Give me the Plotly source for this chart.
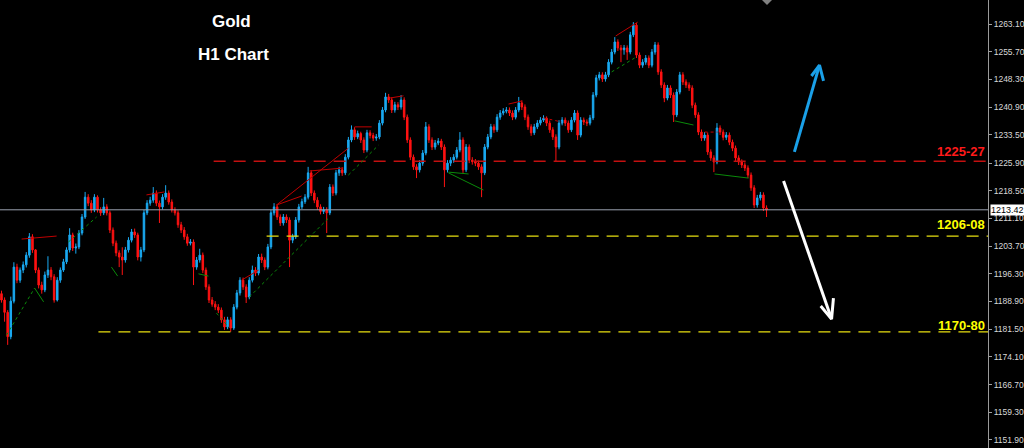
import plotly.graph_objects as go

# ---------------- data ----------------
first_open = 1191.0

closes = [
    1189.3, 1186.0, 1179.5, 1189.0, 1198.1, 1194.6, 1197.3, 1198.7, 1201.3, 1206.2,
    1202.7, 1197.3, 1193.3, 1192.0, 1196.0, 1197.3, 1195.5, 1189.3, 1194.6, 1197.3,
    1199.5, 1202.7, 1206.7, 1203.2, 1203.5, 1207.2, 1211.5, 1216.8, 1215.2, 1213.4,
    1216.8, 1213.4, 1212.6, 1214.2, 1212.6, 1208.0, 1204.5, 1201.9, 1200.8, 1200.0,
    1202.7, 1205.3, 1207.5, 1206.7, 1200.8, 1202.7, 1212.6, 1215.2, 1216.0, 1217.9,
    1215.2, 1214.2, 1216.8, 1217.9, 1215.5, 1213.4, 1212.6, 1209.4, 1208.0, 1206.2,
    1204.5, 1204.8, 1198.1, 1200.0,
    1201.3, 1197.3, 1192.8, 1189.3, 1188.2, 1187.4, 1186.6, 1184.0, 1182.1, 1184.0,
    1181.8, 1187.4, 1191.2, 1194.6, 1192.8, 1190.1, 1194.6, 1197.3, 1196.5, 1200.8,
    1200.0, 1198.1, 1203.5, 1212.6, 1214.2, 1211.5, 1209.9, 1211.5, 1210.7, 1205.3,
    1206.2, 1210.7, 1214.2, 1215.6, 1216.8, 1223.3, 1217.9, 1216.0, 1214.2, 1213.0,
    1213.4, 1212.6, 1219.5, 1217.9, 1223.3, 1224.1, 1223.3, 1227.5, 1232.1, 1234.8,
    1232.9, 1233.8, 1232.1, 1229.4, 1234.0, 1233.3, 1232.6, 1232.9, 1236.6, 1240.1,
    1243.6,
    1242.8, 1240.1, 1241.5, 1240.9, 1242.8, 1238.2, 1232.1, 1227.5, 1224.9, 1224.1,
    1225.9, 1228.6, 1235.6, 1232.1, 1230.2, 1231.3, 1231.8, 1230.2, 1224.1, 1225.9,
    1226.7, 1227.5, 1229.4, 1232.1, 1224.1, 1230.2, 1226.7, 1226.3, 1225.9, 1224.9,
    1223.3, 1230.2, 1232.9, 1235.6, 1234.8, 1238.2, 1239.3, 1239.8, 1240.1, 1239.3,
    1238.2, 1240.1, 1242.0, 1240.9, 1238.2, 1235.6, 1234.0, 1235.6, 1236.6, 1237.4,
    1237.9, 1236.6, 1234.8, 1232.9, 1230.2, 1236.6, 1237.4, 1236.6, 1234.8, 1237.4,
    1239.3, 1233.4, 1237.4, 1236.9, 1236.6, 1238.0, 1244.1, 1248.7,
    1249.5, 1248.4, 1249.5, 1252.9, 1255.6, 1258.3, 1256.7, 1256.2, 1256.7, 1255.6,
    1260.2, 1262.8, 1254.8, 1252.1, 1252.9, 1254.0, 1252.1, 1255.6, 1257.5, 1250.3,
    1246.8, 1243.3, 1246.0, 1244.1, 1238.8, 1244.9, 1249.5, 1247.6, 1246.8, 1246.0,
    1241.4, 1238.8, 1234.2, 1232.6, 1233.4, 1228.9, 1227.3, 1226.2, 1235.3, 1234.2,
    1232.8, 1233.4, 1231.5, 1229.9, 1227.3, 1226.2, 1225.4, 1224.6, 1222.7, 1219.3,
    1214.7, 1216.6, 1217.4, 1213.9, 1213.42,
]

highs = [
    1191.8, 1190.0, 1186.6, 1190.2, 1199.4, 1199.0, 1198.0, 1199.6, 1202.1, 1207.2,
    1206.9, 1202.9, 1198.0, 1194.2, 1196.9, 1201.0, 1198.1, 1196.2, 1195.4, 1198.0,
    1200.3, 1203.4, 1208.5, 1207.3, 1204.4, 1208.0, 1212.3, 1218.2, 1217.6, 1216.0,
    1217.6, 1217.3, 1214.1, 1216.6, 1214.9, 1213.2, 1208.7, 1205.2, 1202.6, 1203.4,
    1203.5, 1206.1, 1208.3, 1208.4, 1207.3, 1203.5, 1213.4, 1216.0, 1216.9, 1219.5,
    1218.6, 1215.9, 1217.6, 1220.0, 1218.6, 1216.2, 1214.1, 1213.3, 1210.2, 1208.8,
    1207.0, 1205.6, 1205.5, 1200.8,
    1203.0, 1202.0, 1198.0, 1193.5, 1190.1, 1189.0, 1188.2, 1187.3, 1184.8, 1184.8,
    1184.7, 1188.2, 1192.0, 1195.4, 1195.3, 1193.5, 1195.4, 1198.5, 1198.1, 1201.6,
    1201.7, 1200.7, 1204.3, 1213.4, 1215.2, 1214.9, 1212.2, 1212.3, 1212.2, 1211.4,
    1207.0, 1211.5, 1215.0, 1216.4, 1217.6, 1224.9, 1224.0, 1218.6, 1216.8, 1214.9,
    1214.2, 1214.1, 1220.3, 1220.2, 1224.1, 1224.9, 1224.8, 1228.3, 1232.9, 1236.0,
    1235.5, 1234.6, 1234.3, 1232.8, 1234.8, 1234.7, 1234.0, 1233.7, 1237.4, 1240.9,
    1244.7,
    1244.4, 1243.5, 1242.3, 1242.2, 1244.1, 1243.5, 1238.9, 1232.8, 1228.2, 1225.6,
    1226.7, 1229.4, 1236.9, 1236.3, 1232.8, 1232.1, 1232.6, 1232.4, 1230.9, 1226.7,
    1227.5, 1228.3, 1230.2, 1234.2, 1232.8, 1231.0, 1230.9, 1227.5, 1227.0, 1226.6,
    1225.6, 1231.0, 1233.7, 1236.4, 1236.3, 1239.0, 1240.1, 1240.6, 1240.9, 1240.8,
    1240.0, 1240.9, 1243.6, 1242.7, 1241.6, 1238.9, 1236.3, 1236.4, 1237.4, 1238.2,
    1238.7, 1238.4, 1237.3, 1235.5, 1233.6, 1237.4, 1238.2, 1238.1, 1237.3, 1238.2,
    1240.1, 1240.0, 1238.2, 1238.1, 1237.6, 1238.8, 1244.9, 1249.5,
    1250.3, 1250.2, 1250.3, 1253.7, 1256.4, 1259.6, 1259.0, 1257.5, 1257.5, 1257.4,
    1261.0, 1263.6, 1263.4, 1255.5, 1253.7, 1254.8, 1254.7, 1256.4, 1258.3, 1258.2,
    1251.0, 1247.5, 1246.8, 1246.7, 1244.8, 1245.7, 1250.3, 1250.2, 1248.3, 1247.5,
    1246.7, 1242.1, 1239.5, 1234.9, 1234.2, 1234.1, 1229.6, 1228.0, 1236.6, 1236.0,
    1234.9, 1234.2, 1234.1, 1232.2, 1230.6, 1228.0, 1226.9, 1226.1, 1225.3, 1223.4,
    1220.0, 1217.4, 1218.2, 1218.1, 1214.6,
]

lows = [
    1188.6, 1183.5, 1177.3, 1178.8, 1188.4, 1193.8, 1193.9, 1196.5, 1198.0, 1200.6,
    1201.9, 1196.5, 1192.4, 1191.0, 1191.4, 1195.2, 1194.6, 1188.6, 1188.9, 1193.9,
    1196.8, 1198.9, 1202.0, 1202.4, 1201.7, 1202.9, 1206.6, 1211.0, 1214.4, 1212.6,
    1212.8, 1212.7, 1211.8, 1212.0, 1211.9, 1207.2, 1203.7, 1201.0, 1198.1, 1196.0,
    1199.3, 1202.0, 1204.7, 1205.9, 1199.9, 1199.6, 1202.1, 1212.0, 1214.5, 1215.3,
    1214.4, 1209.9, 1213.5, 1216.1, 1214.8, 1212.7, 1211.9, 1208.6, 1207.2, 1205.4,
    1203.8, 1203.9, 1193.3, 1197.4,
    1199.3, 1196.5, 1192.0, 1188.5, 1187.5, 1186.6, 1185.8, 1183.2, 1181.3, 1181.5,
    1180.8, 1181.3, 1186.8, 1190.5, 1192.0, 1188.5, 1189.5, 1194.0, 1195.7, 1195.9,
    1199.2, 1197.3, 1197.5, 1202.9, 1211.9, 1210.7, 1209.1, 1209.2, 1209.9, 1198.1,
    1204.5, 1205.6, 1210.0, 1213.6, 1215.0, 1216.2, 1217.1, 1215.2, 1213.4, 1212.2,
    1212.3, 1207.2, 1212.0, 1217.1, 1217.3, 1222.5, 1222.5, 1222.7, 1226.9, 1231.5,
    1232.1, 1232.3, 1231.3, 1228.6, 1228.8, 1232.5, 1231.8, 1231.9, 1232.3, 1236.0,
    1239.5,
    1242.0, 1239.3, 1239.4, 1240.1, 1240.2, 1237.4, 1231.3, 1226.7, 1224.1, 1221.9,
    1223.4, 1225.2, 1228.0, 1231.3, 1229.4, 1229.5, 1230.7, 1229.4, 1219.5, 1223.4,
    1225.1, 1226.0, 1226.9, 1228.8, 1223.3, 1223.5, 1225.9, 1225.5, 1225.1, 1224.1,
    1216.8, 1222.7, 1229.6, 1232.3, 1234.0, 1234.2, 1237.5, 1238.7, 1239.2, 1238.5,
    1237.4, 1237.6, 1239.5, 1240.1, 1237.4, 1234.8, 1233.2, 1233.4, 1235.0, 1236.0,
    1236.9, 1235.8, 1234.0, 1232.1, 1226.2, 1229.6, 1236.0, 1235.8, 1234.0, 1234.2,
    1236.8, 1232.1, 1232.8, 1236.1, 1235.8, 1236.0, 1237.4, 1243.5,
    1248.0, 1247.6, 1247.7, 1248.9, 1252.3, 1255.0, 1255.9, 1252.9, 1254.9, 1253.5,
    1255.0, 1259.6, 1254.0, 1251.3, 1251.4, 1252.2, 1251.3, 1251.5, 1254.9, 1249.5,
    1246.0, 1242.2, 1242.7, 1243.3, 1236.9, 1238.2, 1244.3, 1246.8, 1246.0, 1245.2,
    1240.6, 1238.0, 1233.4, 1231.8, 1231.9, 1228.1, 1226.5, 1223.5, 1225.6, 1233.4,
    1232.0, 1232.1, 1230.7, 1229.1, 1226.5, 1225.4, 1224.6, 1223.8, 1221.9, 1218.5,
    1213.9, 1214.0, 1215.9, 1213.1, 1211.5,
]

# y-axis tick values as printed by the terminal
tick_vals = [1151.90, 1159.30, 1166.70, 1174.10, 1181.50, 1188.90, 1196.30, 1203.70,
             1211.10, 1218.50, 1225.90, 1233.50, 1240.90, 1248.30, 1255.70, 1263.10]

current_price = 1213.42

# support / resistance zones: label, line price, starting bar
level_labels = ["1225-27", "1206-08", "1170-80"]
level_prices = [1226.4, 1206.4, 1180.8]
level_start_bars = [68.5, 85.6, 31.3]
level_label_prices = [1228.9, 1209.4, 1182.4]

# fractal trend lines: (bar0, price0, bar1, price1)
red_lines = [
    (6.5, 1205.6, 17.8, 1206.4), (46.8, 1217.4, 52.6, 1218.2),
    (77.5, 1194.6, 83.0, 1197.3), (88.8, 1214.7, 112.0, 1229.9),
    (88.8, 1214.7, 96.9, 1217.1), (99.5, 1223.8, 110.4, 1224.6),
    (114.0, 1235.6, 119.5, 1235.6), (125.3, 1243.3, 129.8, 1243.9),
    (163.7, 1241.7, 167.9, 1242.5), (198.3, 1259.9, 205.4, 1263.6),
]
red_dotted_lines = [(175.0, 1238.0, 180.8, 1236.9), (227.0, 1234.2, 231.2, 1234.2)]
green_lines = [
    (10.7, 1192.5, 13.6, 1188.8), (35.5, 1198.1, 37.5, 1195.7),
    (63.6, 1196.3, 66.8, 1195.7), (144.3, 1223.5, 150.8, 1223.0),
    (144.3, 1223.3, 155.6, 1218.7), (217.3, 1237.2, 223.4, 1236.1),
    (230.2, 1223.0, 241.2, 1221.9),
]
green_dotted_lines = [
    (1.6, 1179.9, 10.7, 1192.5), (21.6, 1204.8, 30.7, 1211.5),
    (69.4, 1185.8, 73.3, 1182.1), (80.0, 1190.1, 105.6, 1211.2),
    (112.0, 1222.7, 121.7, 1230.7), (197.0, 1250.3, 204.4, 1254.0),
]

# drawn arrows: start, tip, two head wings  (bar, price)
arrow_up = [(256.0, 1228.9), (264.1, 1252.1), (261.5, 1249.2), (265.4, 1247.9)]
arrow_down = [(252.5, 1221.1), (268.0, 1184.2), (264.5, 1187.7), (268.6, 1189.8)]

# ---------------- figure ----------------
bars = list(range(len(closes)))
opens = [first_open] + closes[:-1]

X_MIN, X_MAX = -0.48, 318.5
Y_MIN, Y_MAX = 1149.73, 1269.52

fig = go.Figure()

def seg_trace(segs, color, dash, width=1):
    xs, ys = [], []
    for b0, p0, b1, p1 in segs:
        xs += [b0, b1, None]
        ys += [p0, p1, None]
    return go.Scatter(x=xs, y=ys, mode="lines", hoverinfo="skip", showlegend=False,
                      line=dict(color=color, width=width, dash=dash))

# horizontal levels (behind candles)
level_line_colors = ["#C41010", "#E8E010", "#E8E010"]
for b0, p, col in zip(level_start_bars, level_prices, level_line_colors):
    fig.add_trace(go.Scatter(x=[b0, X_MAX], y=[p, p], mode="lines", hoverinfo="skip",
                             showlegend=False,
                             line=dict(color=col, width=1.3, dash="12px,8px")))

# current price line
fig.add_trace(go.Scatter(x=[X_MIN, X_MAX], y=[current_price, current_price], mode="lines",
                         hoverinfo="skip", showlegend=False,
                         line=dict(color="#9AA2B0", width=1)))

fig.add_trace(go.Candlestick(
    x=bars, open=opens, high=highs, low=lows, close=closes,
    increasing=dict(line=dict(color="#1AAAF2", width=1), fillcolor="#1AAAF2"),
    decreasing=dict(line=dict(color="#FF1212", width=1), fillcolor="#FF1212"),
    whiskerwidth=0, showlegend=False, hoverinfo="skip",
))

fig.add_trace(seg_trace(red_lines, "#C00000", "solid"))
fig.add_trace(seg_trace(red_dotted_lines, "#C00000", "dot"))
fig.add_trace(seg_trace(green_lines, "#0A8A0A", "solid"))
fig.add_trace(seg_trace(green_dotted_lines, "#0A8A0A", "dot"))

for arrow, col in ((arrow_up, "#1AA0E8"), (arrow_down, "#FFFFFF")):
    (sb, sp), (tb, tp), (w1b, w1p), (w2b, w2p) = arrow
    fig.add_trace(go.Scatter(x=[sb, tb, None, w1b, tb, w2b],
                             y=[sp, tp, None, w1p, tp, w2p],
                             mode="lines", hoverinfo="skip", showlegend=False,
                             line=dict(color=col, width=3)))

annotations = [
    dict(text="<b>Gold</b>", x=231 / 988, y=1 - 21 / 448, xref="paper", yref="paper",
         xanchor="center", yanchor="middle",
         showarrow=False, font=dict(family="Liberation Sans", size=17, color="#FFFFFF")),
    dict(text="<b>H1 Chart</b>", x=233 / 988, y=1 - 54 / 448, xref="paper", yref="paper",
         xanchor="center", yanchor="middle",
         showarrow=False, font=dict(family="Liberation Sans", size=17, color="#FFFFFF")),
]
label_colors = ["#FF1A1A", "#FFFF00", "#FFFF00"]
for txt, lp, col in zip(level_labels, level_label_prices, label_colors):
    annotations.append(dict(text=f"<b>{txt}</b>", x=0.999, y=lp, xref="paper", yref="y",
                            xanchor="right", yanchor="middle", showarrow=False,
                            font=dict(family="Liberation Sans", size=13, color=col)))
annotations.append(dict(text=f"{current_price:.2f}", x=1.0, y=current_price, xref="paper",
                        yref="y", xanchor="left", yanchor="middle", showarrow=False,
                        bgcolor="#FFFFFF", borderpad=0, xshift=2,
                        font=dict(family="Liberation Sans", size=9, color="#000000")))

# small chart-shift marker at the top edge
shapes = [dict(type="path", xref="paper", yref="paper",
               path=f"M {762/988} 1 L {772/988} 1 L {767/988} {1 - 5/448} Z",
               fillcolor="#808080", line=dict(width=0))]

fig.update_layout(
    width=1024, height=448,
    margin=dict(l=0, r=36, t=0, b=0),
    paper_bgcolor="#000000", plot_bgcolor="#000000",
    showlegend=False,
    annotations=annotations,
    shapes=shapes,
    xaxis=dict(range=[X_MIN, X_MAX], visible=False, rangeslider=dict(visible=False),
               fixedrange=True),
    yaxis=dict(range=[Y_MIN, Y_MAX], side="right", showgrid=False, zeroline=False,
               tickmode="array", tickvals=tick_vals,
               ticktext=[f"{v:.2f}" for v in tick_vals],
               ticks="outside", ticklen=3, tickcolor="#A0A0A0",
               showline=True, linecolor="#9A9A9A", linewidth=1,
               tickfont=dict(family="Liberation Sans", size=8.5, color="#D8D8D8"),
               fixedrange=True),
)

fig.write_html("out.html", config={"displayModeBar": False},
               post_script="document.body.style.margin='0';")
